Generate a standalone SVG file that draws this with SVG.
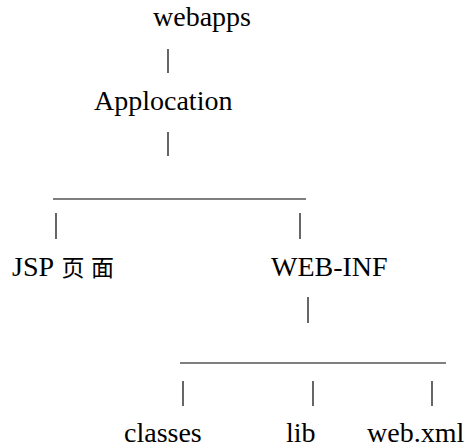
<svg xmlns="http://www.w3.org/2000/svg" width="468" height="448" viewBox="0 0 468 448">
<style>
.t{font-family:'Liberation Serif','Times New Roman',Times,serif;font-size:28px;fill:#000}
.cjk{font-family:'Noto Sans CJK SC',sans-serif;font-size:23px}
.c line{stroke:#000;stroke-width:1.2}
</style>
<rect width="468" height="448" fill="#fff"/>
<g id="webapps"><text class="t" x="153" y="26">webapps</text></g>
<g id="applocation"><text class="t" x="94" y="110">Applocation</text></g>
<g id="jsp"><text class="t" x="12" y="276">JSP <tspan class="cjk" x="61.5">页</tspan><tspan class="cjk" x="91">面</tspan></text></g>
<g id="webinf"><text class="t" x="271" y="276">WEB-INF</text></g>
<g id="classes"><text class="t" x="124" y="442">classes</text></g>
<g id="lib"><text class="t" x="286" y="442">lib</text></g>
<g id="webxml"><text class="t" x="367" y="442">web.xml</text></g>
<g class="c" id="connectors">
<line x1="168" y1="49" x2="168" y2="73"/>
<line x1="168" y1="132" x2="168" y2="156"/>
<line x1="53" y1="199" x2="306" y2="199"/>
<line x1="56" y1="213" x2="56" y2="239"/>
<line x1="300" y1="213" x2="300" y2="239"/>
<line x1="308" y1="297" x2="308" y2="323"/>
<line x1="180" y1="363" x2="446" y2="363"/>
<line x1="183" y1="381" x2="183" y2="406"/>
<line x1="313" y1="381" x2="313" y2="406"/>
<line x1="432" y1="381" x2="432" y2="406"/>
</g>
</svg>
